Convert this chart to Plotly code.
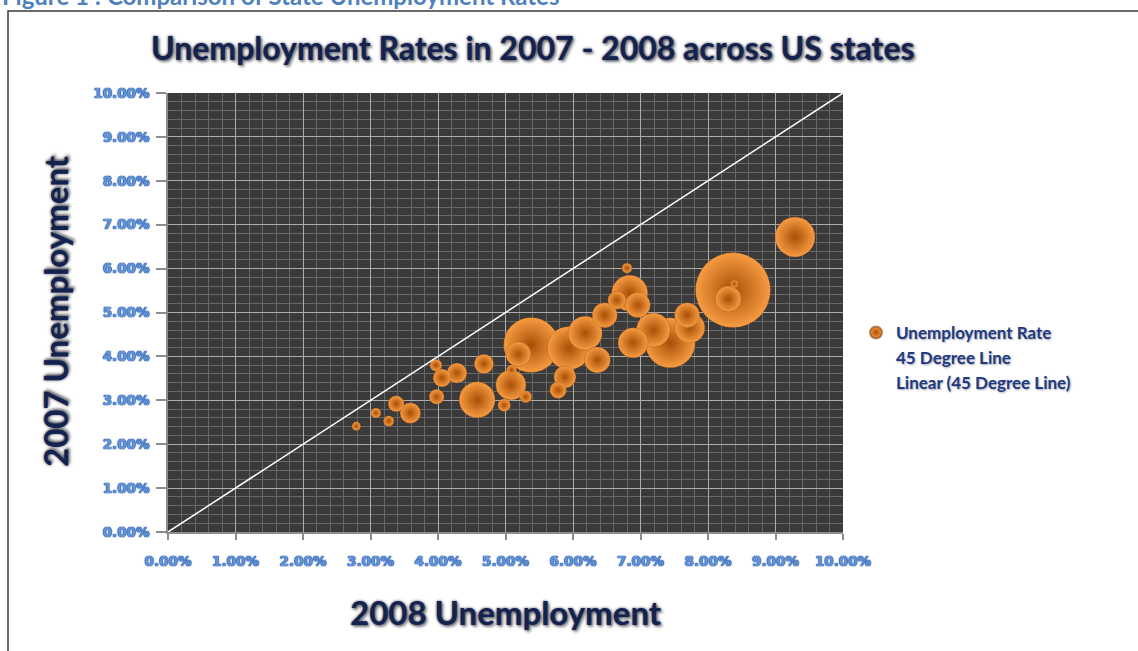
import plotly.graph_objects as go

# State unemployment rates (%), 2008 vs 2007, bubble area = labour force (thousands)
unemp_2008 = [8.37, 5.38, 7.44, 5.94, 9.29, 4.58, 6.84, 6.18, 7.19, 5.08,
              6.89, 7.73, 6.36, 6.47, 6.96, 7.69, 5.19, 8.30, 5.88, 3.59,
              4.28, 4.68, 4.06, 6.65, 5.78, 3.38, 3.98, 4.98, 3.97, 5.30,
              3.27, 3.08, 5.09, 6.80, 2.79, 8.39]
unemp_2007 = [5.51, 4.26, 4.31, 4.19, 6.72, 3.01, 5.44, 4.53, 4.60, 3.35,
              4.31, 4.65, 3.92, 4.94, 5.17, 4.94, 4.05, 5.31, 3.53, 2.71,
              3.62, 3.83, 3.51, 5.28, 3.23, 2.92, 3.08, 2.89, 3.80, 3.08,
              2.53, 2.71, 3.69, 6.01, 2.41, 5.65]
labor_force = [18000, 9700, 8000, 6000, 5100, 4150, 4150, 3700, 3700, 2900,
               2900, 2900, 2160, 2000, 2000, 2000, 2000, 2160, 1550, 1360,
               1280, 1200, 1040, 1040, 880, 820, 720, 510, 460, 460,
               360, 320, 320, 320, 240, 205]

line_45 = [0, 10]

NAVY = "#13224f"
TICK_BLUE = "#6395da"
FONT = "Lato"
TITLE_SHADOW = "0 0 3px rgba(0,0,30,0.7), 2px 2px 3px rgba(0,0,0,0.45)"

# plot-area geometry (pixels)
W, H = 1138, 651
L, R, T, B = 168, 295, 93, 119
pw, ph = W - L - R, H - T - B


def px_x(p):
    return (p - L) / pw


def px_y(p):
    return (H - B - p) / ph


max_bubble = 75  # diameter of the largest bubble, px
sizeref = 2.0 * max(labor_force) / max_bubble ** 2

fig = go.Figure()

fig.add_trace(go.Scatter(
    x=unemp_2008, y=unemp_2007, mode="markers", name="Unemployment Rate",
    marker=dict(size=labor_force, sizemode="area", sizeref=sizeref,
                color="#f79c42",
                gradient=dict(type="radial", color="#a94f06"),
                line=dict(width=0.5, color="rgba(120,50,0,0.55)"),
                opacity=1),
))

fig.add_trace(go.Scatter(
    x=line_45, y=line_45, mode="lines", name="45 Degree Line",
    line=dict(width=0, color="rgba(255,255,255,0)"),
))

fig.add_trace(go.Scatter(
    x=line_45, y=line_45, mode="lines", name="Linear (45 Degree Line)",
    line=dict(width=1.5, color="#ffffff"),
))

tick_font = dict(family="DejaVu Sans", size=13.5, color=TICK_BLUE, weight="bold",
                 shadow="0 0 1px #1d4a9e, 0 0 1px #1d4a9e, 0 0 1px #1d4a9e")

axis_common = dict(
    range=[0, 10], dtick=1, tick0=0, tickformat=".2f", ticksuffix="%",
    showgrid=True, gridcolor="#adadad", gridwidth=1.3,
    minor=dict(dtick=0.2, showgrid=True, gridcolor="#686868", gridwidth=1),
    zeroline=False, showline=True, linecolor="#8c8c8c", linewidth=1.5,
    ticks="outside", tickcolor="#8c8c8c", tickwidth=1.5,
    tickfont=tick_font, fixedrange=True,
)

fig.update_layout(
    width=W, height=H,
    margin=dict(l=L, r=R, t=T, b=B),
    paper_bgcolor="white", plot_bgcolor="#3a3a3a",
    xaxis=dict(axis_common, ticklen=6, ticklabelstandoff=10),
    yaxis=dict(axis_common, ticklen=10, ticklabelstandoff=4),
    showlegend=True,
    legend=dict(x=px_x(856), y=px_y(315), xanchor="left", yanchor="top",
                bgcolor="rgba(0,0,0,0)", itemsizing="constant",
                tracegroupgap=0,
                font=dict(family=FONT, size=17, color="#1d3a80", weight="bold",
                          shadow="1px 1px 2px rgba(0,0,40,0.35)")),
    annotations=[
        dict(text="Unemployment Rates in 2007 - 2008 across US states",
             xref="paper", yref="paper", x=px_x(533), y=px_y(47),
             xanchor="center", yanchor="middle", showarrow=False,
             font=dict(family=FONT, size=32, color=NAVY, weight="bold",
                       shadow=TITLE_SHADOW)),
        dict(text="2008 Unemployment",
             xref="paper", yref="paper", x=px_x(506), y=px_y(612),
             xanchor="center", yanchor="middle", showarrow=False,
             font=dict(family=FONT, size=33, color=NAVY, weight="bold",
                       shadow=TITLE_SHADOW)),
        dict(text="2007 Unemployment", textangle=-90,
             xref="paper", yref="paper", x=px_x(55), y=px_y(311),
             xanchor="center", yanchor="middle", showarrow=False,
             font=dict(family=FONT, size=33, color=NAVY, weight="bold",
                       shadow=TITLE_SHADOW)),
        dict(text="Figure 1 : Comparison of State Unemployment Rates",
             xref="paper", yref="paper", x=px_x(0), y=px_y(12),
             xanchor="left", yanchor="bottom", showarrow=False,
             font=dict(family=FONT, size=24, color="#4f81bd", weight="bold")),
    ],
    shapes=[
        dict(type="rect", xref="paper", yref="paper",
             x0=px_x(8), x1=px_x(1160), y0=px_y(680), y1=px_y(11),
             line=dict(color="#3a3a3a", width=1.5), fillcolor="rgba(0,0,0,0)",
             layer="below"),
    ],
)

fig.write_html("out.html")
